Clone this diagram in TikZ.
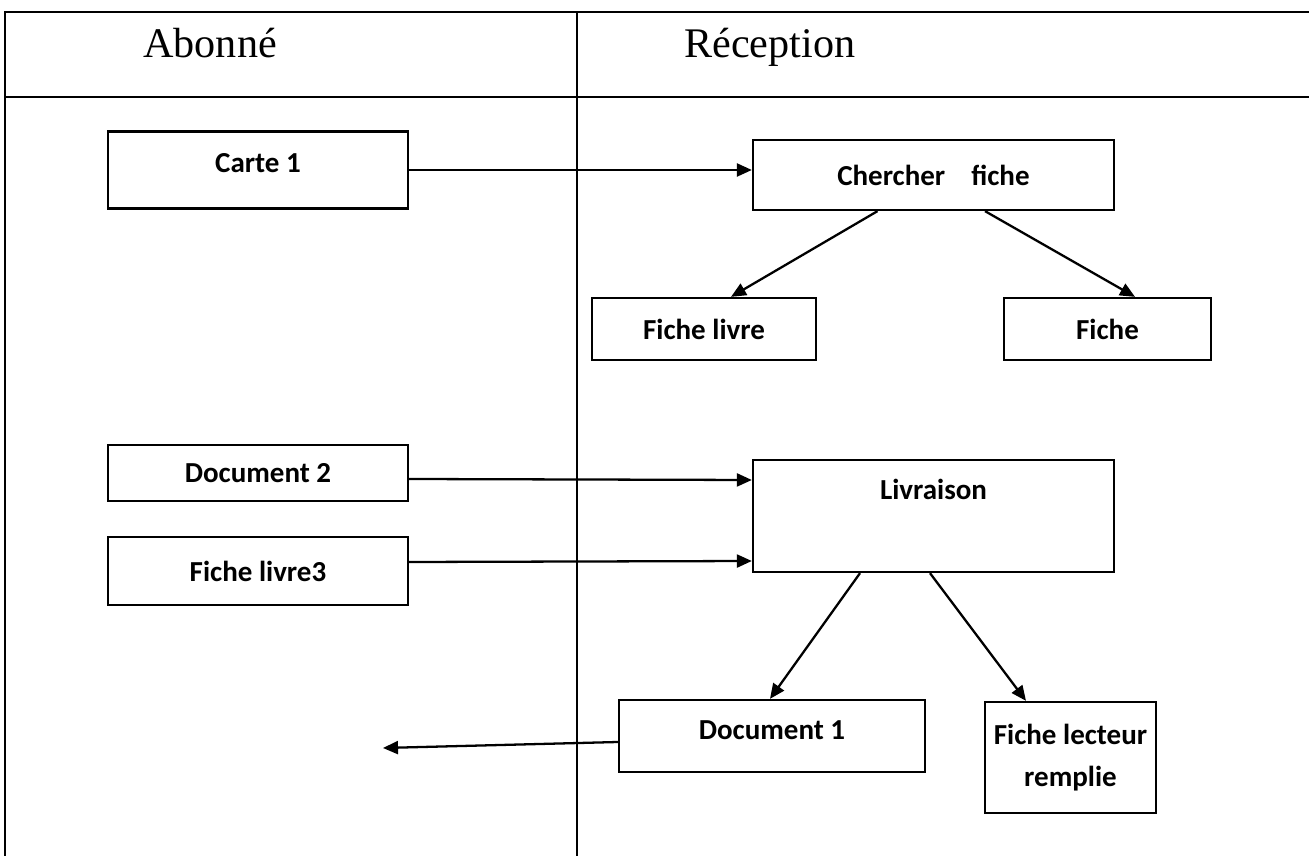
\documentclass[tikz,border=0pt]{standalone}
\usepackage{fontspec}
\setmainfont{Liberation Serif}
\newfontfamily\calibri{Carlito}
\usetikzlibrary{arrows.meta}

\begin{document}
\begin{tikzpicture}[x=0.2mm,y=-0.2mm,
        boite/.style={draw,line width=1.3pt,inner sep=2pt,align=center,
            font=\calibri\bfseries\fontsize{16.5}{24}\selectfont},
        haut/.style={text height=0.45cm,text depth=0.33cm},
        fleche/.style={-{Triangle[length=3mm,width=2.6mm]},line width=1.3pt},
        titre/.style={anchor=base west,inner sep=0pt,font=\fontsize{24}{28}\selectfont}]
        \useasboundingbox (0,0) rectangle (1309,856);
        % cadre et colonnes
        \draw[line width=1.6pt] (5,856) -- (5,12) -- (1309,12);
        \draw[line width=1.6pt] (5,97) -- (1309,97);
        \draw[line width=0.8pt] (577,12) -- (577,856);
        \node[titre] (abonne) at (143,58) {Abonné};
        \node[titre] (reception) at (684,58) {Réception};
        % boites
        \node[boite,haut,minimum width=6cm,minimum height=1.54cm] (carte) at (258,170) {Carte 1};
        \node[boite,minimum width=7.22cm,minimum height=1.4cm] (chercher) at (933.5,175) {Chercher\hspace{0.9em}fiche};
        \node[boite,minimum width=4.48cm,minimum height=1.24cm] (fichelivre) at (704,329) {Fiche livre};
        \node[boite,minimum width=4.14cm,minimum height=1.24cm] (fiche) at (1107.5,329) {Fiche};
        \node[boite,minimum width=6cm,minimum height=1.12cm] (docdeux) at (258,473) {Document 2};
        \node[boite,minimum width=6cm,minimum height=1.36cm] (fichelivretrois) at (258,571) {Fiche livre3};
        \node[boite,minimum width=7.22cm,minimum height=2.24cm,text height=0.45cm,text depth=1.11cm] (livraison) at (933.5,516) {Livraison};
        \node[boite,haut,minimum width=6.12cm,minimum height=1.44cm] (docun) at (772,736) {Document 1};
        \node[boite,minimum width=3.42cm,minimum height=2.22cm] (fichelecteur) at (1070.5,757.5) {Fiche lecteur\\remplie};
        % fleches
        \draw[fleche] (carte.east) -- (carte.east -| chercher.west);
        \draw[fleche] ([xshift=-1.12cm]chercher.south) -- ([xshift=0.54cm]fichelivre.north);
        \draw[fleche] ([xshift=1.03cm]chercher.south) -- ([xshift=0.55cm]fiche.north);
        \draw[fleche] ([yshift=-0.12cm]docdeux.east) -- ([yshift=0.72cm]livraison.west);
        \draw[fleche] ([yshift=0.18cm]fichelivretrois.east) -- ([yshift=-0.9cm]livraison.west);
        \draw[fleche] ([xshift=-1.47cm]livraison.south) -- ([xshift=-0.04cm]docun.north);
        \draw[fleche] ([xshift=-0.07cm]livraison.south) -- ([xshift=-0.89cm]fichelecteur.north);
        \coordinate (sortie) at (383,748);
        \draw[fleche] ([yshift=-0.12cm]docun.west) -- (sortie);
    \end{tikzpicture}
\end{document}
